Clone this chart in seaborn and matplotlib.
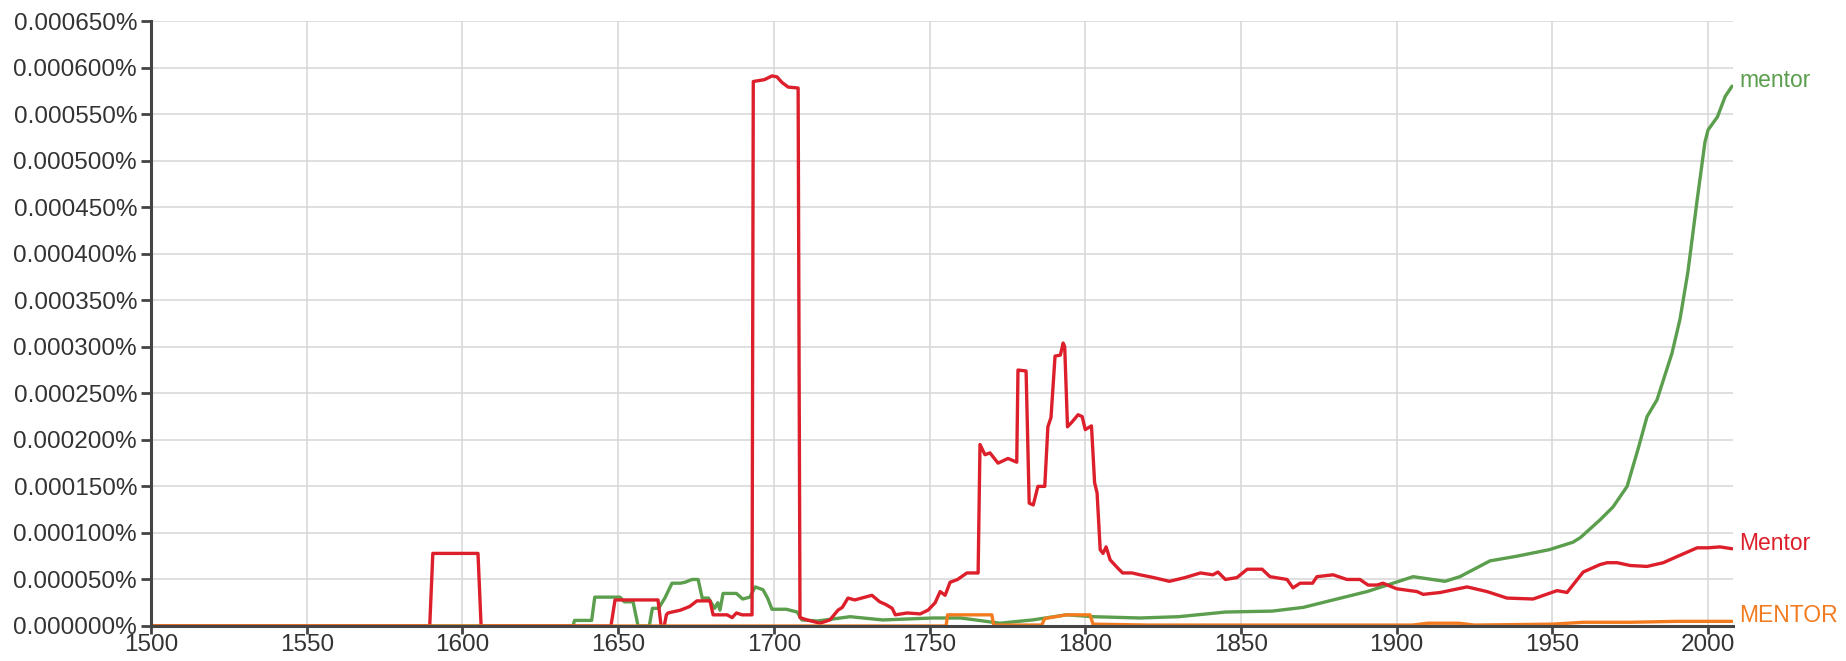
import matplotlib
matplotlib.use("Agg")
import matplotlib.pyplot as plt
import seaborn as sns
from matplotlib.ticker import FuncFormatter, MultipleLocator

# =======================
# Dados (valores em %)
# =======================
mentor_cap_years = [
    1500, 1589.5, 1590.5, 1605, 1606, 1647.7, 1649, 1662.8, 1663.8, 1664.8,
    1665.5, 1666, 1670, 1673, 1675.3, 1679.5, 1680.5, 1685, 1686.6, 1688,
    1689.8, 1693, 1693.4, 1697, 1699.4, 1701, 1702.6, 1704.6, 1707.8, 1708.4,
    1710.7, 1714.8, 1718, 1720.6, 1722, 1723.8, 1726, 1731.5, 1734, 1736,
    1738, 1739, 1742.8, 1747, 1749.5, 1751.8, 1753.4, 1755, 1756.6, 1759,
    1762, 1765.6, 1766.2, 1767.8, 1769.4, 1772, 1775.2, 1778, 1778.4, 1781,
    1782, 1783.3, 1784.8, 1787, 1788, 1789, 1790.3, 1792, 1792.9, 1793.4,
    1794.3, 1795.7, 1797.7, 1799, 1800, 1802, 1803, 1803.8, 1804.8, 1805.7,
    1806.7, 1808, 1810.5, 1812, 1815, 1817.6, 1822, 1827, 1832, 1837,
    1841, 1842.6, 1845, 1848.7, 1852, 1856.8, 1859.3, 1864.8, 1866.7, 1869,
    1873, 1874.4, 1879.6, 1884, 1888.2, 1890.8, 1893.7, 1895.6, 1900, 1906.5,
    1908.5, 1914, 1922.6, 1929, 1935.4, 1943.8, 1951.5, 1954.7, 1959.9, 1965.3,
    1967.6, 1970.8, 1975, 1980.4, 1985.6, 1991, 1996.5, 2000, 2003.8, 2007.7,
]
mentor_cap_vals = [
    0, 0, 78, 78, 0, 0, 28, 28, 0, 0,
    12, 14, 17, 21, 27, 27, 12, 12, 9, 14,
    12, 12, 585, 587, 591, 590, 584, 579, 578, 9,
    6.5, 3, 6.5, 17, 20, 30, 28, 33, 26, 23,
    19, 12, 14, 13, 17, 25, 37, 33, 47, 50,
    57, 57, 195, 184, 186, 175, 180, 176, 275, 274,
    132, 130, 150, 150, 214, 224, 290, 291, 304, 300,
    214, 219, 227, 225, 211, 215, 154, 143, 82, 78,
    85, 71, 62, 57, 57, 55, 52, 48, 52, 57,
    55, 58, 50, 52, 61, 61, 53, 50, 41, 46,
    46, 53, 55, 50, 50, 44, 44, 46, 40, 37,
    34, 36, 42, 37, 30, 29, 38, 36, 58, 66,
    68, 68, 65, 64, 68, 76, 84, 84, 85, 83,
]

mentor_low_years = [
    1500, 1635.5, 1636, 1641.5, 1642.5, 1650.6, 1652, 1654.8, 1656.4, 1660,
    1661, 1663, 1665, 1667.3, 1670, 1671.5, 1673.7, 1675.7, 1677, 1679,
    1681, 1682, 1682.7, 1683.7, 1688, 1690, 1692.3, 1694, 1696.5, 1698,
    1699.4, 1704, 1707.5, 1709, 1714, 1720, 1724.5, 1735, 1751, 1760,
    1772.6, 1783, 1794, 1802.5, 1817.6, 1830, 1845, 1860, 1870, 1879.6,
    1890.5, 1897, 1905.3, 1915.5, 1920.3, 1930, 1938.6, 1949, 1956.6, 1959,
    1965.3, 1969.5, 1974, 1977.5, 1980.4, 1983.6, 1988.4, 1991, 1993.5, 1996.5,
    1999, 2000, 2003, 2005.5, 2007.7,
]
mentor_low_vals = [
    0, 0, 6, 6, 31, 31, 26, 26, 0, 0,
    19, 19, 30, 46, 46, 47, 50, 50, 30, 30,
    19, 25, 17, 35, 35, 29, 31, 42, 39, 30,
    18, 18, 15, 6.5, 5.4, 8, 10, 6.5, 8.6, 8.6,
    3, 6.5, 12, 10, 8.6, 10, 15, 16, 20, 28,
    37, 44, 53, 48, 53, 70, 75, 82, 90, 95,
    114, 128, 150, 190, 225, 243, 293, 330, 380, 458,
    520, 533, 547, 569, 580,
]

mentor_upper_years = [
    1500, 1755.3, 1755.8, 1770, 1770.6, 1786, 1787, 1794, 1801.5, 1802.5,
    1820, 1905, 1910, 1920, 1925, 1950, 1960, 1975, 1990, 2007.7,
]
mentor_upper_vals = [
    0, 0, 12, 12, 1, 1, 8, 12, 12, 2,
    1, 1, 3, 3, 1, 2, 4, 4, 5, 5,
]

# rótulo, anos, valores (em milionésimos de %), cor
series = [
    ("mentor", mentor_low_years, mentor_low_vals, "#5b9e4d"),
    ("Mentor", mentor_cap_years, mentor_cap_vals, "#dc1f2b"),
    ("MENTOR", mentor_upper_years, mentor_upper_vals, "#f27b1f"),
]

# =======================
# Estilo
# =======================
sns.set_theme(style="whitegrid")
plt.rcParams["font.family"] = ["Liberation Sans", "DejaVu Sans"]

fig = plt.figure(figsize=(18.46, 6.61), dpi=100)
ax = fig.add_axes([151 / 1846, 35 / 661, (1733 - 151) / 1846, (626 - 21) / 661])

for label, years, vals, color in series:
    sns.lineplot(x=years, y=[v * 1e-6 for v in vals], color=color,
                 linewidth=2.4, estimator=None, ax=ax)
    ax.annotate(label, xy=(years[-1], vals[-1] * 1e-6), xytext=(5, 4),
                textcoords="offset points", color=color, fontsize=16.5,
                va="center", ha="left", annotation_clip=False)

ax.set_xlim(1500, 2008)
ax.set_ylim(0, 0.00065)
ax.xaxis.set_major_locator(MultipleLocator(50))
ax.yaxis.set_major_locator(MultipleLocator(0.00005))
ax.yaxis.set_major_formatter(FuncFormatter(lambda v, p: f"{v:.6f}%"))
ax.set_xlabel("")
ax.set_ylabel("")

ax.grid(True, color="#d6d6d6", linewidth=1.1)
ax.set_facecolor("white")
for side in ["top", "right"]:
    ax.spines[side].set_visible(False)
for side in ["left", "bottom"]:
    ax.spines[side].set_visible(True)
    ax.spines[side].set_color("#444444")
    ax.spines[side].set_linewidth(2.2)

ax.tick_params(axis="y", left=True, length=7, width=2, color="#444444",
               labelsize=17.5, labelcolor="#333333", pad=3)
ax.tick_params(axis="x", bottom=True, length=6, width=2, color="#444444",
               labelsize=17.5, labelcolor="#333333", pad=0)

fig.savefig("out.png", dpi=100, facecolor="white")
